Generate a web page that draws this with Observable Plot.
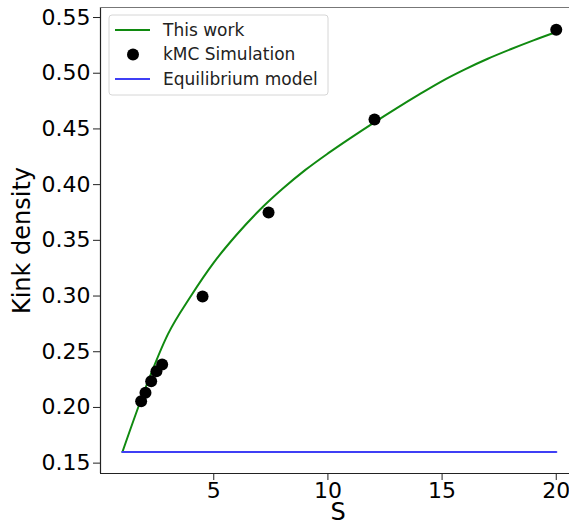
<!DOCTYPE html>
<html>
<head>
<meta charset="utf-8">
<script src="https://cdn.jsdelivr.net/npm/d3@7"></script>
<script src="https://cdn.jsdelivr.net/npm/@observablehq/plot@0.6"></script>
<style>
  body { margin: 0; background: #fff; }
  #chart svg { display: block; }
</style>
</head>
<body>
<div id="chart"></div>
<script>
// Model curve ("This work")
const modelS = [1, 2, 3, 4, 5, 6, 7, 8, 9, 10, 11, 12, 13, 14, 15, 16, 17, 18, 19, 20];
const modelDensity = [0.160, 0.217, 0.266, 0.300, 0.330, 0.355, 0.377, 0.396, 0.413, 0.428,
                      0.442, 0.4555, 0.4685, 0.481, 0.493, 0.5035, 0.513, 0.5215, 0.5295, 0.537];

// kMC simulation results
const kmcS = [1.82, 2.01, 2.26, 2.49, 2.74, 4.51, 7.40, 12.04, 20.0];
const kmcDensity = [0.2056, 0.2131, 0.2235, 0.2325, 0.2385, 0.2995, 0.375, 0.4584, 0.539];

// Equilibrium model (constant)
const equilibriumS = [1, 20];
const equilibriumDensity = [0.16, 0.16];

// Axes
const xTicks = [5, 10, 15, 20];
const yTicks = [0.15, 0.20, 0.25, 0.30, 0.35, 0.40, 0.45, 0.50, 0.55];
const xLabel = "S";
const yLabel = "Kink density";

// Legend
const legendLabels = ["This work", "kMC Simulation", "Equilibrium model"];
const colors = { model: "#108a10", kmc: "#000000", equilibrium: "#3f3ff5" };

const model = modelS.map((s, i) => ({ s, d: modelDensity[i] }));
const kmc = kmcS.map((s, i) => ({ s, d: kmcDensity[i] }));
const equilibrium = equilibriumS.map((s, i) => ({ s, d: equilibriumDensity[i] }));

const xDomain = [0.04, 20.58];
const yDomain = [0.1407, 0.559];

const chart = Plot.plot({
  width: 569,
  height: 525,
  marginLeft: 100,
  marginRight: 0,
  marginTop: 7,
  marginBottom: 52,
  style: { fontFamily: "DejaVu Sans", background: "#fff", color: "#000" },
  x: { domain: xDomain, label: null },
  y: { domain: yDomain, label: null },
  marks: [
    // spines
    Plot.ruleX([xDomain[0]], { stroke: "#222", strokeWidth: 1.2 }),
    Plot.ruleY([yDomain[0]], { stroke: "#222", strokeWidth: 1.2 }),
    Plot.ruleY([yDomain[1]], { stroke: "#777", strokeWidth: 1.2 }),
    Plot.axisX({ ticks: xTicks, tickSize: 7, tickPadding: 2, fontSize: 22, label: null, stroke: "#222" }),
    Plot.axisY({ ticks: yTicks, tickSize: 7, tickPadding: 3, fontSize: 22, label: null,
                 tickFormat: d3.format(".2f"), stroke: "#222" }),
    Plot.text([xLabel], { frameAnchor: "bottom", lineAnchor: "middle", textAnchor: "middle",
                          dy: 39, dx: 3, fontSize: 24, fill: "#000" }),
    Plot.text([yLabel], { frameAnchor: "left", lineAnchor: "middle", textAnchor: "middle",
                          dx: -78, rotate: -90, fontSize: 24, fill: "#000" }),
    // data
    Plot.line(model, { x: "s", y: "d", stroke: colors.model, strokeWidth: 2, curve: "monotone-x" }),
    Plot.line(equilibrium, { x: "s", y: "d", stroke: colors.equilibrium, strokeWidth: 2.2 }),
    Plot.dot(kmc, { x: "s", y: "d", r: 6, fill: colors.kmc, stroke: "none" })
  ]
});

document.getElementById("chart").appendChild(chart);

// Legend box in the upper-left corner of the plot area
const svg = d3.select(chart);
const lg = svg.append("g").attr("transform", "translate(109,15)")
  .attr("font-family", "DejaVu Sans").attr("font-size", 17).attr("text-anchor", "start");
lg.append("rect").attr("width", 219).attr("height", 80).attr("rx", 3)
  .attr("fill", "#fff").attr("fill-opacity", 0.8).attr("stroke", "#d6d6d6");
const kinds = ["line", "dot", "line"];
const swatchColors = [colors.model, colors.kmc, colors.equilibrium];
legendLabels.forEach((label, i) => {
  const y = 15 + i * 24.5;
  if (kinds[i] === "line") {
    lg.append("line").attr("x1", 6).attr("x2", 41).attr("y1", y).attr("y2", y)
      .attr("stroke", swatchColors[i]).attr("stroke-width", 2);
  } else {
    lg.append("circle").attr("cx", 24).attr("cy", y).attr("r", 6).attr("fill", swatchColors[i]);
  }
  lg.append("text").attr("x", 54).attr("y", y).attr("dy", "0.35em")
    .attr("text-anchor", "start").attr("fill", "#222").text(label);
});
</script>
</body>
</html>
